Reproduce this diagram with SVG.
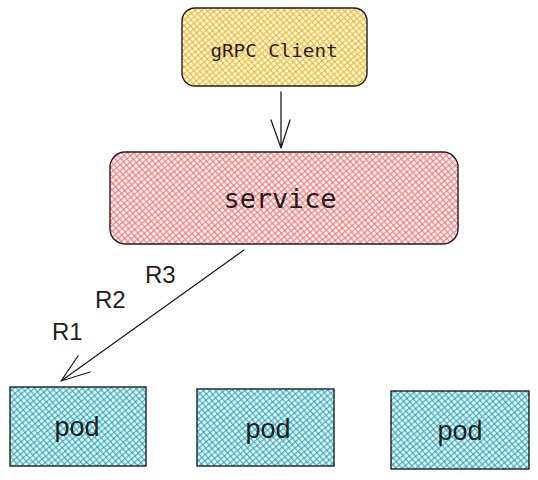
<svg xmlns="http://www.w3.org/2000/svg" width="538" height="480" viewBox="0 0 538 480">
<defs>
<pattern id="hY" patternUnits="userSpaceOnUse" width="4.5" height="4.5" patternTransform="rotate(-41)">
<rect x="0" y="0" width="4.5" height="1.4" fill="#fab005" fill-opacity="0.8"/><rect x="0" y="0" width="1.4" height="4.5" fill="#fab005" fill-opacity="0.8"/>
</pattern>
<pattern id="hR" patternUnits="userSpaceOnUse" width="4.5" height="4.5" patternTransform="rotate(-41)">
<rect x="0" y="0" width="4.5" height="1.4" fill="#ff6b6b" fill-opacity="0.8"/><rect x="0" y="0" width="1.4" height="4.5" fill="#ff6b6b" fill-opacity="0.8"/>
</pattern>
<pattern id="hC" patternUnits="userSpaceOnUse" width="4.5" height="4.5" patternTransform="rotate(-41)">
<rect x="0" y="0" width="4.5" height="1.4" fill="#15aabf" fill-opacity="0.8"/><rect x="0" y="0" width="1.4" height="4.5" fill="#15aabf" fill-opacity="0.8"/>
</pattern>
</defs>
<style>
.box{stroke:#1e1e1e;stroke-width:1.4}
.edge{fill:none;stroke:#1e1e1e;stroke-width:1.3;stroke-linecap:round;stroke-linejoin:round}
.mono{font-family:"DejaVu Sans Mono","Liberation Mono",monospace;fill:#1e1e1e}
.sans{font-family:"Liberation Sans",Arial,sans-serif;fill:#1e1e1e}
</style>
<rect width="538" height="480" fill="#ffffff"/>
<g id="node-grpc-client">
<rect class="box" x="182" y="8" width="185" height="78" rx="13" fill="url(#hY)"/>
<text class="mono" x="274" y="57" font-size="18" text-anchor="middle" textLength="127" lengthAdjust="spacingAndGlyphs">gRPC Client</text>
</g>
<g id="node-service">
<rect class="box" x="110" y="152" width="348" height="92" rx="15" fill="url(#hR)"/>
<text class="mono" x="280" y="208" font-size="26" text-anchor="middle" textLength="113" lengthAdjust="spacingAndGlyphs">service</text>
</g>
<g id="node-pod-1">
<rect class="box" x="10" y="387" width="136" height="79" fill="url(#hC)"/>
<text class="sans" x="77" y="436" font-size="27" text-anchor="middle">pod</text>
</g>
<g id="node-pod-2">
<rect class="box" x="197" y="389" width="137" height="77" fill="url(#hC)"/>
<text class="sans" x="268" y="438" font-size="27" text-anchor="middle">pod</text>
</g>
<g id="node-pod-3">
<rect class="box" x="391" y="391" width="138" height="78" fill="url(#hC)"/>
<text class="sans" x="460" y="440" font-size="27" text-anchor="middle">pod</text>
</g>
<g id="connectors">
<path class="edge" d="M281 92 L281 148 M271 120 L281 148 L290 120"/>
<path class="edge" d="M244 250 L61 381 M78 356 L61 381 L90 372"/>
</g>
<g id="labels">
<text class="sans" x="52" y="340" font-size="24">R1</text>
<text class="sans" x="95" y="308" font-size="24">R2</text>
<text class="sans" x="145" y="283" font-size="24">R3</text>
</g>
</svg>
